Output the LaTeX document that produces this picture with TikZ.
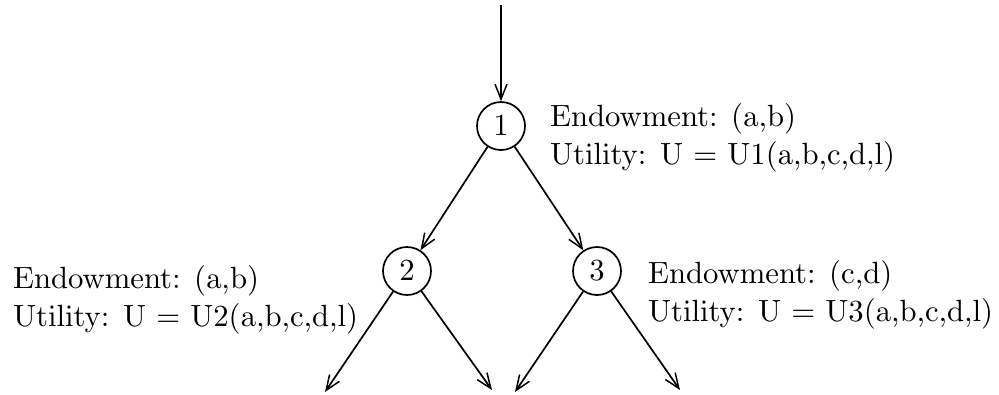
\documentclass[tikz,border=0pt]{standalone}
\usetikzlibrary{arrows.meta}
% the 10pt design face, magnified for the labels and the player numbers
\font\treefont=cmr10 at 30.7pt
\newcommand{\twolines}[2]{\fontsize{30.7}{38}\selectfont\treefont
  \begin{tabular}[t]{@{}l@{}}#1\\#2\end{tabular}}
\begin{document}
\begin{tikzpicture}[x=1pt,y=-1pt,
  every node/.style={font=\treefont},
  state/.style={circle,draw,line width=1.7pt,minimum size=48pt,inner sep=0pt},
  info/.style={anchor=base west,inner sep=0pt},
  flow/.style={line width=1.7pt,-{Straight Barb[length=15pt,width=12pt,line width=1.5pt]}}]
  \useasboundingbox (0,0) rectangle (999,394);

  % players of the game tree
  \node[state] (n1) at (501,126) {1};
  \node[state] (n2) at (407,271) {2};
  \node[state] (n3) at (597,271) {3};

  % endowments and utilities
  \node[info] (t1) at (550,126) {\twolines{Endowment: (a,b)}{Utility: U = U1(a,b,c,d,l)}};
  \node[info] (t2) at (13,288) {\twolines{Endowment: (a,b)}{Utility: U = U2(a,b,c,d,l)}};
  \node[info] (t3) at (648,283) {\twolines{Endowment: (c,d)}{Utility: U = U3(a,b,c,d,l)}};

  % loose ends
  \coordinate (top) at (501,5);
  \coordinate (l2a) at (325,392);
  \coordinate (l2b) at (492,390);
  \coordinate (l3a) at (515,392);
  \coordinate (l3b) at (680,390);

  \draw[flow] (top) -- (n1);
  \draw[flow] (n1) -- (n2);
  \draw[flow] (n1) -- (n3);
  \draw[flow] (n2) -- (l2a);
  \draw[flow] (n2) -- (l2b);
  \draw[flow] (n3) -- (l3a);
  \draw[flow] (n3) -- (l3b);
\end{tikzpicture}
\end{document}
